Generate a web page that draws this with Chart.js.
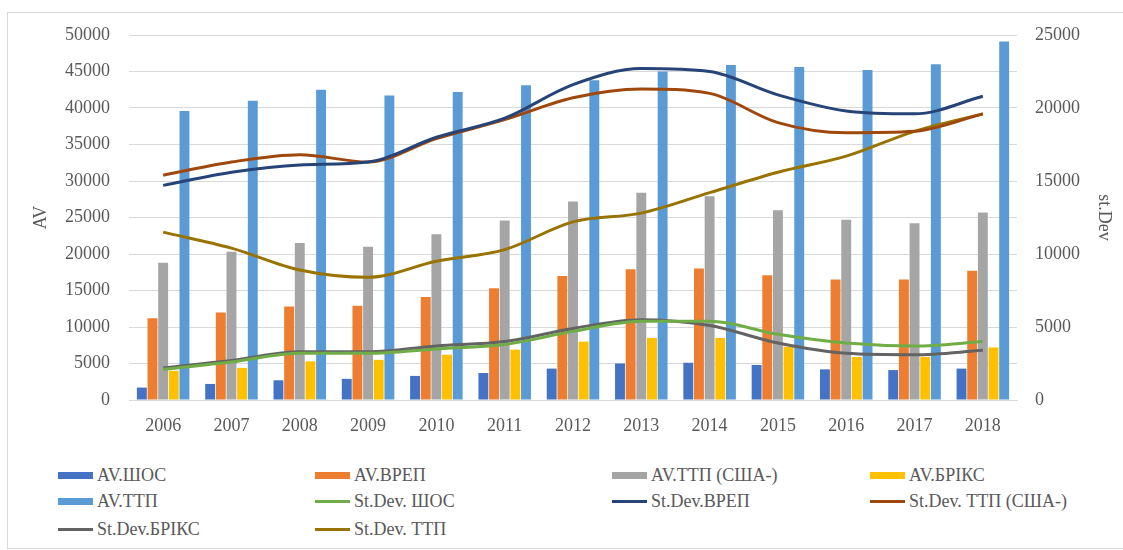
<!DOCTYPE html>
<html>
<head>
<meta charset="utf-8">
<script src="https://cdn.jsdelivr.net/npm/chart.js@4.4.0/dist/chart.umd.min.js"></script>
<style>
  html, body { margin: 0; padding: 0; background: #fff; }
  #wrap { position: relative; width: 1123px; height: 550px; overflow: hidden; font-family: "Liberation Serif", "Times New Roman", serif; }
  #frame { position: absolute; left: 7px; top: 12px; width: 1130px; height: 535px; border-left: 1px solid #d9d9d9; border-top: 1px solid #d9d9d9; border-bottom: 1px solid #d9d9d9; }
  #cv { position: absolute; left: 0; top: 0; }
  .lg { position: absolute; display: flex; align-items: center; font-family: "Liberation Serif", serif; font-size: 18px; color: #595959; white-space: nowrap; line-height: 1; }
  .sym { display: inline-block; width: 35px; margin-right: 4px; }
</style>
</head>
<body>
<div id="wrap">
  <div id="frame"></div>
  <canvas id="cv" width="1123" height="450"></canvas>
  <div id="legend"></div>
</div>
<script>
const years = ['2006','2007','2008','2009','2010','2011','2012','2013','2014','2015','2016','2017','2018'];
const avShos   = [1700, 2200, 2700, 2900, 3300, 3700, 4300, 5000, 5100, 4800, 4200, 4100, 4300];
const avVrep   = [11200, 12000, 12800, 12900, 14100, 15300, 17000, 17900, 18000, 17100, 16500, 16500, 17700];
const avTtpUsa = [18800, 20300, 21500, 21000, 22700, 24600, 27200, 28400, 27900, 26000, 24700, 24200, 25700];
const avBrics  = [4000, 4400, 5300, 5500, 6200, 6900, 8000, 8500, 8500, 7300, 5900, 5900, 7200];
const avTtp    = [39600, 41000, 42500, 41700, 42200, 43100, 43800, 45000, 45900, 45600, 45200, 46000, 49100];
const sdShos   = [2100, 2600, 3200, 3200, 3500, 3800, 4700, 5400, 5400, 4500, 3900, 3700, 4000];
const sdVrep   = [14700, 15600, 16100, 16300, 18000, 19300, 21600, 22700, 22500, 20900, 19800, 19600, 20800];
const sdTtpUsa = [15400, 16300, 16800, 16300, 17900, 19200, 20700, 21300, 21000, 19000, 18300, 18400, 19600];
const sdBrics  = [2200, 2700, 3300, 3300, 3700, 4000, 4900, 5500, 5100, 3900, 3200, 3100, 3400];
const sdTtp    = [11500, 10400, 8900, 8400, 9500, 10300, 12200, 12800, 14200, 15600, 16700, 18400, 19600];
const leftTicks  = [0, 5000, 10000, 15000, 20000, 25000, 30000, 35000, 40000, 45000, 50000];
const rightTicks = [0, 5000, 10000, 15000, 20000, 25000];

const series = [
  {label:'AV.ШОС', type:'bar', data:avShos, color:'#4472C4'},
  {label:'AV.ВРЕП', type:'bar', data:avVrep, color:'#ED7D31'},
  {label:'AV.ТТП (США-)', type:'bar', data:avTtpUsa, color:'#A5A5A5'},
  {label:'AV.БРІКС', type:'bar', data:avBrics, color:'#FFC000'},
  {label:'AV.ТТП', type:'bar', data:avTtp, color:'#5B9BD5'},
  {label:'St.Dev. ШОС', type:'line', data:sdShos, color:'#70AD47'},
  {label:'St.Dev.ВРЕП', type:'line', data:sdVrep, color:'#264478'},
  {label:'St.Dev. ТТП (США-)', type:'line', data:sdTtpUsa, color:'#9E480E'},
  {label:'St.Dev.БРІКС', type:'line', data:sdBrics, color:'#636363'},
  {label:'St.Dev. ТТП', type:'line', data:sdTtp, color:'#997300'}
];

const datasets = series.map(s => s.type === 'bar' ? {
  type:'bar', label:s.label, data:s.data, backgroundColor:s.color, borderWidth:0,
  yAxisID:'y', order:2, categoryPercentage:0.78, barPercentage:0.93
} : {
  type:'line', label:s.label, data:s.data, borderColor:s.color, backgroundColor:s.color,
  borderWidth:3, pointRadius:0, cubicInterpolationMode:'monotone', fill:false, yAxisID:'y1', order:1
});

const font = {family:'"Liberation Serif", "Times New Roman", serif', size:18};
const plain = v => String(v);

new Chart(document.getElementById('cv'), {
  data: { labels: years, datasets },
  options: {
    responsive:false, animation:false,
    layout:{ padding:{ top:35, left:0, right:0, bottom:0 } },
    plugins:{ legend:{display:false}, tooltip:{enabled:false} },
    scales:{
      x:{
        grid:{display:false, drawTicks:false},
        border:{display:true, color:'#d9d9d9'},
        ticks:{color:'#595959', font, padding:15, maxRotation:0, autoSkip:false},
        afterFit: s => { s.height = 50; }
      },
      y:{
        position:'left', min:0, max:50000,
        afterBuildTicks: s => { s.ticks = leftTicks.map(v => ({value:v})); },
        grid:{color:'#d9d9d9', drawTicks:false}, border:{display:false},
        ticks:{color:'#595959', font, padding:19, callback: plain},
        title:{display:true, text:'AV', color:'#595959', font, padding:{top:30, bottom:0}},
        afterFit: s => { s.width = 129; }
      },
      y1:{
        position:'right', min:0, max:25000,
        afterBuildTicks: s => { s.ticks = rightTicks.map(v => ({value:v})); },
        grid:{display:false, drawTicks:false}, border:{display:false},
        ticks:{color:'#595959', font, padding:18, callback: plain},
        title:{display:true, text:'st.Dev', color:'#595959', font, padding:{top:8, bottom:0}},
        afterFit: s => { s.width = 106; }
      }
    }
  }
});

// HTML legend in Excel-like 4-column grid
const cols = [58, 315, 612, 870];
const rows = [475, 501, 529];
const lg = document.getElementById('legend');
series.forEach((s, i) => {
  const r = Math.floor(i / 4), c = i % 4;
  const d = document.createElement('div');
  d.className = 'lg';
  d.style.left = cols[c] + 'px';
  d.style.top = (rows[r] - 10) + 'px';
  d.style.height = '20px';
  const sym = document.createElement('span');
  sym.className = 'sym';
  sym.style.height = s.type === 'bar' ? '7px' : '3px';
  sym.style.background = s.color;
  const t = document.createElement('span');
  t.textContent = s.label;
  d.appendChild(sym); d.appendChild(t);
  lg.appendChild(d);
});
</script>
</body>
</html>
